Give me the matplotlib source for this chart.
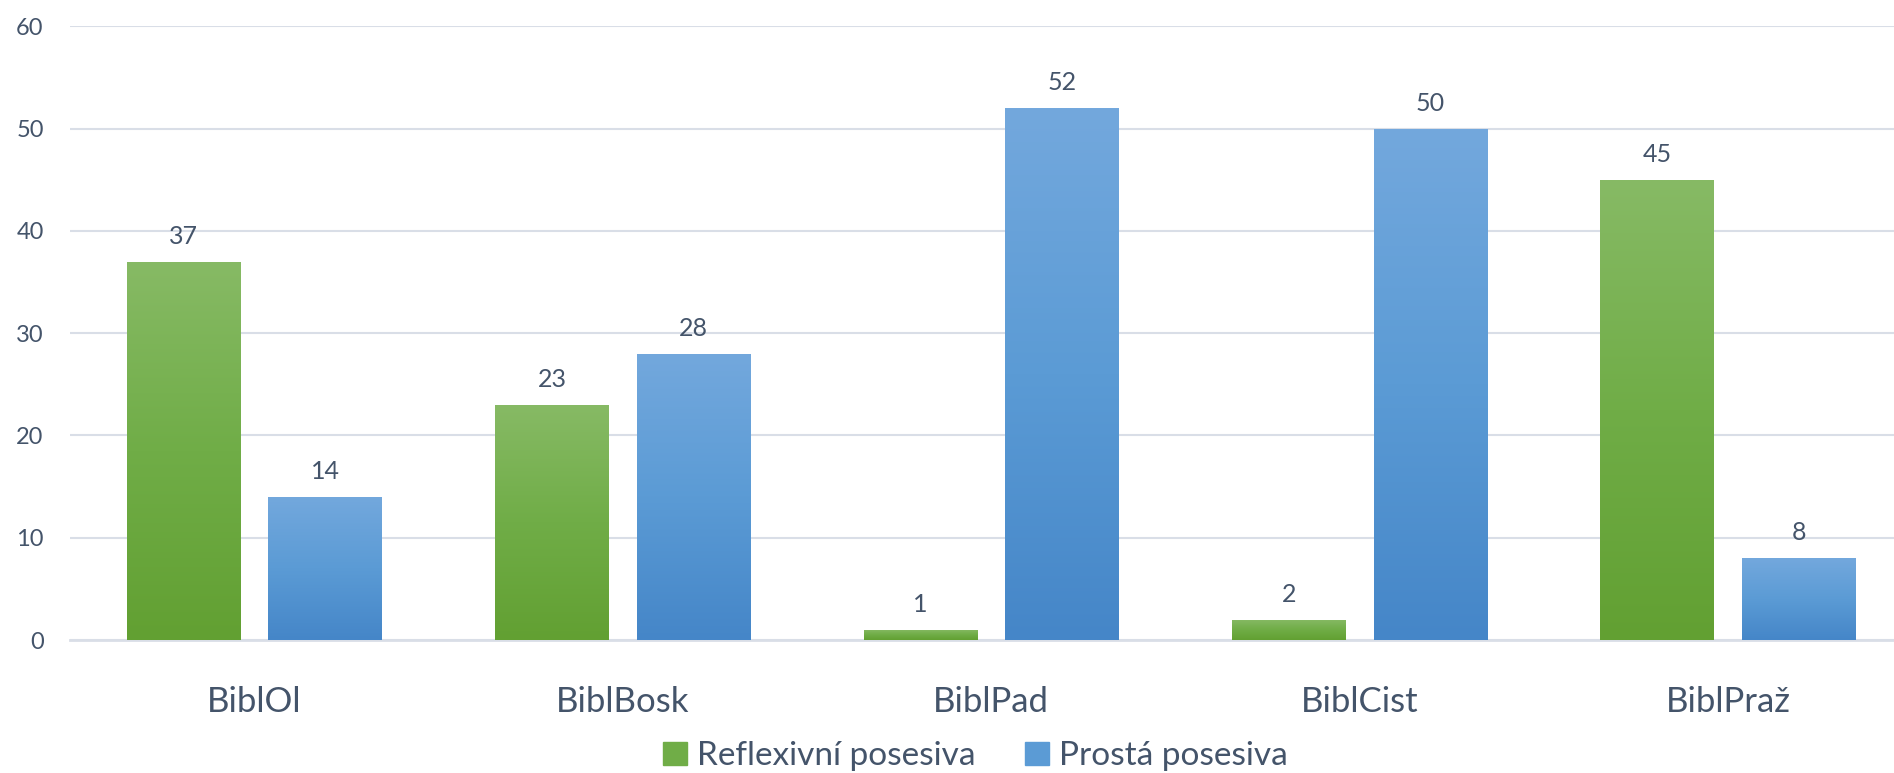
import numpy as np
import matplotlib.pyplot as plt
from matplotlib.colors import LinearSegmentedColormap
from matplotlib.patches import Patch

categories = ['BiblOl', 'BiblBosk', 'BiblPad', 'BiblCist', 'BiblPraž']
reflexivni = [37, 23, 1, 2, 45]
prosta = [14, 28, 52, 50, 8]
series_names = ['Reflexivní posesiva', 'Prostá posesiva']

plt.rcParams['font.family'] = ['Lato', 'DejaVu Sans']
text_color = '#44546a'
grid_color = '#d9dee7'

# gradient fills, bottom colour -> top colour
green = LinearSegmentedColormap.from_list('g', ['#62a032', '#70ad47', '#87ba65'])
blue = LinearSegmentedColormap.from_list('b', ['#4586c8', '#5b9bd5', '#73a8dd'])

fig = plt.figure(figsize=(18.94, 7.73), dpi=100)
# plot area runs a little past the right edge of the figure
ax = fig.add_axes([0.037, 0.172, 0.9726, 0.794])

x = np.arange(len(categories))
width = 0.308
offset = 0.192
grad = np.linspace(0, 1, 256).reshape(-1, 1)

for vals, cmap, dx in [(reflexivni, green, -offset), (prosta, blue, offset)]:
    bars = ax.bar(x + dx, vals, width, color='none', zorder=3)
    for bar, v in zip(bars, vals):
        x0, w = bar.get_x(), bar.get_width()
        im = ax.imshow(grad, cmap=cmap, origin='lower', aspect='auto',
                       extent=[x0, x0 + w, 0, v], zorder=3)
        im.set_clip_path(bar)
        ax.annotate(str(v), (x0 + w / 2, v), xytext=(0, 10), textcoords='offset points',
                    ha='center', va='bottom', fontsize=18, color=text_color)

ax.set_xlim(-0.5, len(categories) - 0.5)
ax.set_ylim(0, 60)
ax.set_yticks(range(0, 61, 10))
ax.set_xticks(x)
ax.set_xticklabels(categories, fontsize=25, color=text_color)
ax.tick_params(axis='x', length=0, pad=33)
ax.tick_params(axis='y', length=0, pad=19, labelsize=17, labelcolor=text_color)
ax.grid(axis='y', color=grid_color, linewidth=1.5, zorder=0)
for s in ['top', 'right', 'left']:
    ax.spines[s].set_visible(False)
ax.spines['bottom'].set_color(grid_color)
ax.spines['bottom'].set_linewidth(2)

handles = [Patch(color='#70ad47'), Patch(color='#5b9bd5')]
fig.legend(handles, series_names, loc='center', bbox_to_anchor=(0.515, 0.022), ncol=2,
           frameon=False, fontsize=24, labelcolor=text_color, handlelength=0.7,
           handleheight=0.7, handletextpad=0.3, columnspacing=1.5)

fig.savefig('out.png', dpi=100)
